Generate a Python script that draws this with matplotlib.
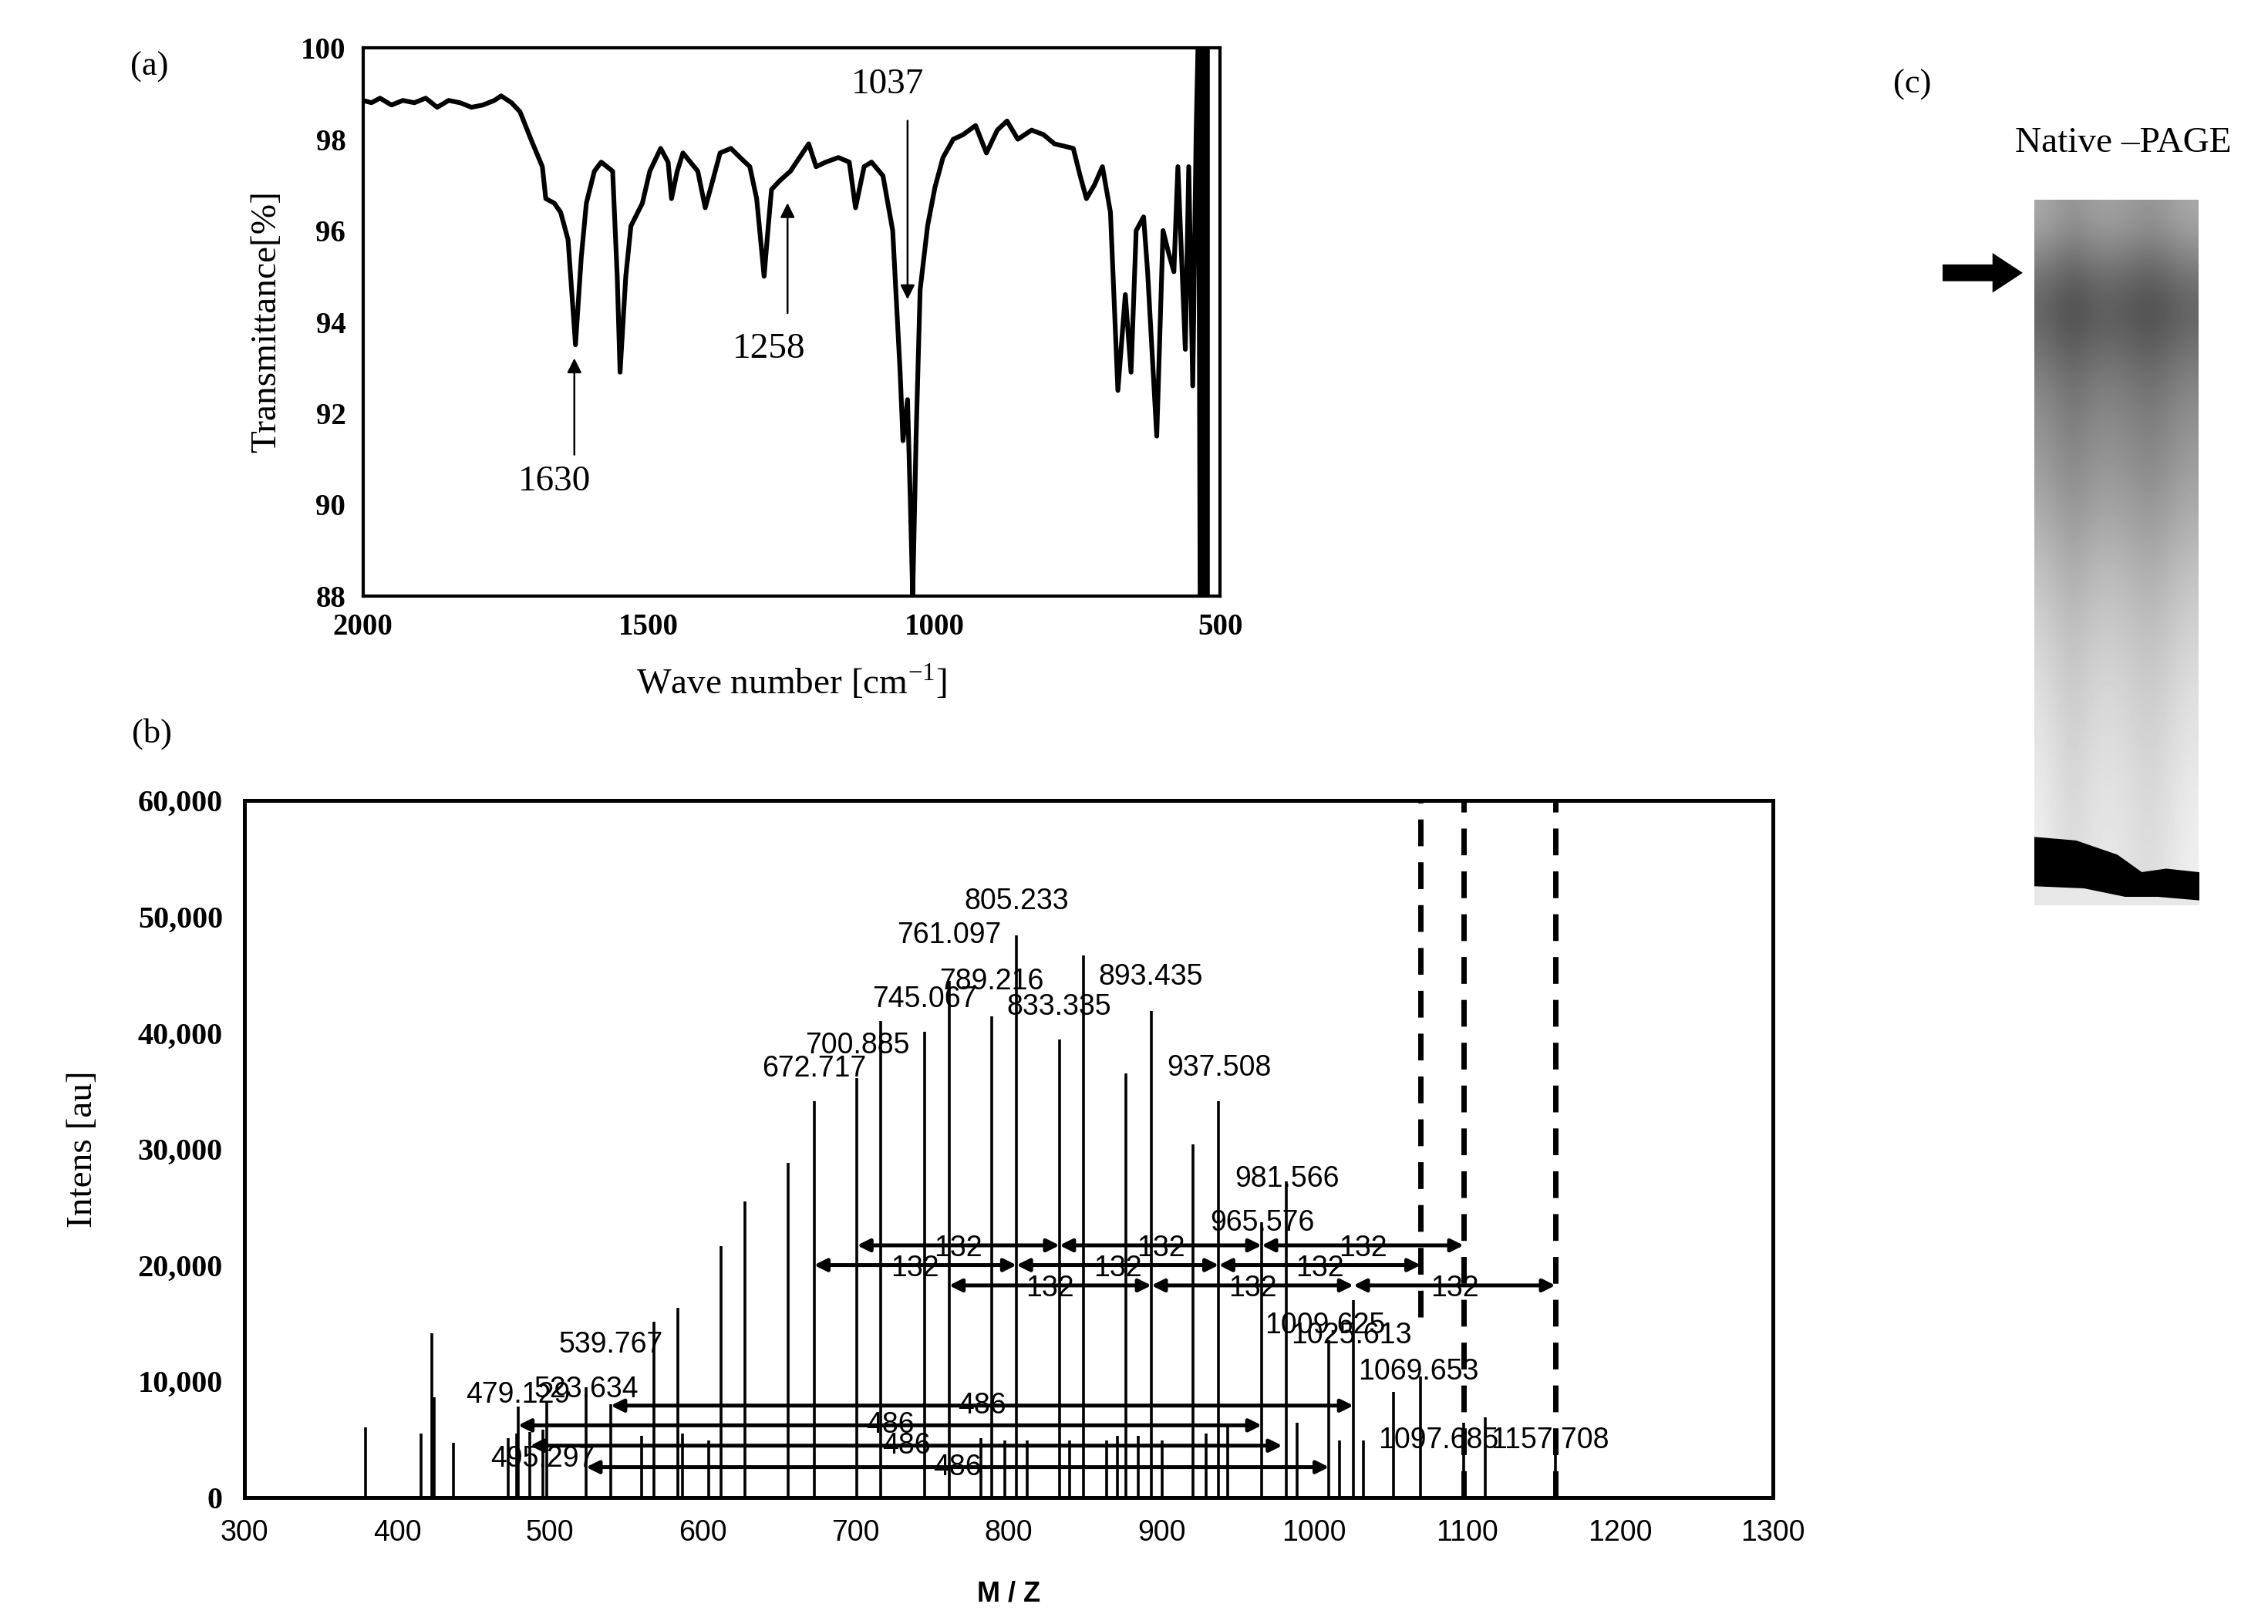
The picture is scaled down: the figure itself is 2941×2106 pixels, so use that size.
import numpy as np
import matplotlib.pyplot as plt

# --- (a) FT-IR spectrum, key points ---
ir_wavenumber = [2000, 1985, 1970, 1950, 1930, 1910, 1890, 1870, 1850, 1830, 1810, 1790, 1770, 1758,
                 1740, 1725, 1706, 1686, 1680, 1665, 1654, 1641, 1628, 1618, 1609, 1595, 1583, 1563,
                 1555, 1550, 1540, 1531, 1511, 1498, 1479, 1466, 1460, 1450, 1440, 1414, 1401, 1390,
                 1375, 1356, 1340, 1323, 1311, 1298, 1290, 1285, 1270, 1252, 1220, 1207, 1190, 1168,
                 1149, 1138, 1123, 1110, 1090, 1073, 1060, 1055, 1047, 1042, 1038, 1032, 1025, 1012,
                 999, 985, 967, 950, 928, 909, 890, 873, 854, 830, 809, 790, 757, 745, 734, 720, 706,
                 692, 679, 666, 656, 647, 634, 627, 611, 600, 590, 581, 574, 561, 555, 548, 542, 538, 535]
ir_transmit = [98.85, 98.80, 98.90, 98.75, 98.85, 98.80, 98.90, 98.70, 98.85, 98.80, 98.70, 98.75, 98.85, 98.95,
               98.80, 98.60, 98.00, 97.40, 96.70, 96.60, 96.40, 95.80, 93.50, 95.40, 96.60, 97.30, 97.50, 97.30,
               95.00, 92.90, 95.00, 96.10, 96.60, 97.30, 97.80, 97.50, 96.70, 97.30, 97.70, 97.30, 96.50, 97.00,
               97.70, 97.80, 97.60, 97.40, 96.70, 95.00, 96.20, 96.90, 97.10, 97.30, 97.90, 97.40, 97.50, 97.60,
               97.50, 96.50, 97.40, 97.50, 97.20, 96.00, 92.90, 91.40, 92.30, 90.00, 88.00, 91.50, 94.70, 96.10,
               96.95, 97.60, 98.00, 98.10, 98.30, 97.70, 98.20, 98.40, 98.00, 98.20, 98.10, 97.90, 97.80, 97.20,
               96.70, 97.00, 97.40, 96.40, 92.50, 94.60, 92.90, 96.00, 96.30, 95.10, 91.50, 96.00, 95.50, 95.10,
               97.40, 93.40, 97.40, 92.60, 98.20, 100.5, 87.5]
ir_marks = ['1630', '1258', '1037']
ir_mark_x = [1630, 1257, 1047]

# --- (b) MALDI-TOF sticks ---
ms_mz = [379.2, 415.8, 422.6, 424.0, 437.0, 472.9, 478.0, 479.129, 487.0, 495.297, 498.0, 523.634,
         539.767, 559.7, 567.9, 583.7, 586.9, 604.0, 611.8, 627.6, 656.0, 672.717, 700.885, 716.3,
         745.067, 761.097, 781.9, 789.216, 797.7, 805.233, 812.0, 833.335, 840.0, 848.9, 864.0, 871.0,
         877.0, 884.6, 893.435, 900.5, 920.8, 929.0, 937.508, 943.4, 965.576, 981.566, 988.7,
         1009.625, 1016.4, 1025.613, 1031.9, 1052.0, 1069.653, 1097.685, 1111.7, 1157.708]
ms_int = [6000, 5500, 14100, 8600, 4700, 5100, 5500, 7800, 5600, 5800, 8200, 9500,
          8000, 5300, 15100, 16300, 5500, 4900, 21600, 25500, 28800, 34100, 36100, 41000,
          40100, 44500, 5100, 41400, 4900, 48400, 4900, 39400, 4900, 46700, 4900, 5300,
          36500, 5300, 41900, 4900, 30400, 5500, 34100, 6200, 23700, 27200, 6400,
          13500, 4900, 17000, 4900, 9100, 10400, 6400, 6900, 5000]

peak_labels = ['805.233', '761.097', '789.216', '893.435', '745.067', '833.335', '700.885', '672.717',
               '937.508', '981.566', '965.576', '539.767', '523.634', '479.129', '495.297', '1009.625',
               '1025.613', '1069.653', '1097.685', '1157.708']
peak_label_x = [805, 761, 789, 893, 745, 833, 701, 673, 938, 982, 966, 540, 524, 479, 495, 1007,
                1024, 1068, 1081, 1154]
peak_label_y = [51300, 48400, 44400, 44800, 42900, 42200, 38900, 36900, 37000, 27400, 23600, 13100,
                9300, 8800, 3300, 14800, 13900, 10800, 4900, 4900]

dashed_mz = [1069.653, 1097.685, 1157.708]
dashed_low = [15500, 0, 0]

# double arrows: (start, end, height)
arrows_132 = [(700.885, 833.335, 21700), (833.335, 965.576, 21700), (965.576, 1097.685, 21700),
              (672.717, 805.233, 20000), (805.233, 937.508, 20000), (937.508, 1069.653, 20000),
              (761.097, 893.435, 18250), (893.435, 1025.613, 18250), (1025.613, 1157.708, 18250)]
arrows_486 = [(539.767, 1025.613, 7900), (479.129, 965.576, 6200),
              (487.0, 979.0, 4450), (523.634, 1009.625, 2600)]

# --- (c) gel densitometry (gray levels, 0 black, 1 white), top to bottom ---
gel_rows = [0.62, 0.45, 0.33, 0.42, 0.50, 0.55, 0.60, 0.66, 0.72, 0.77, 0.81, 0.84, 0.86, 0.88, 0.89, 0.90]
gel_cols = [0.04, -0.01, -0.04, 0.00, 0.01, 0.00, -0.03, -0.03, 0.01, 0.04]

serif = 'Liberation Serif'
sans = 'Liberation Sans'

fig = plt.figure(figsize=(14.705, 10.53), dpi=200)

# ---------- (a) ----------
ax = fig.add_axes([0.160, 0.633, 0.378, 0.3375])
ax.plot(ir_wavenumber, ir_transmit, color='black', lw=2.2)
ax.plot([528, 528], [88, 100], color='black', lw=4)
ax.plot([522, 522], [88, 100], color='black', lw=2)
ax.set_xlim(2000, 500)
ax.set_ylim(88, 100)
ax.set_xticks([2000, 1500, 1000, 500])
ax.set_yticks(range(88, 101, 2))
ax.tick_params(length=0, pad=8)
for t in ax.get_xticklabels() + ax.get_yticklabels():
    t.set_fontfamily(serif)
    t.set_fontweight('bold')
    t.set_fontsize(14)
for s in ax.spines.values():
    s.set_linewidth(1.5)
ax.set_xlabel('Wave number [cm$^{\\mathregular{-1}}$]', fontfamily=serif, fontsize=17, labelpad=10)
ax.set_ylabel('Transmittance[%]', fontfamily=serif, fontsize=17, labelpad=8)
arrowprops = dict(arrowstyle='-|>', color='black', lw=0.9, mutation_scale=14)
ax.annotate('', xy=(ir_mark_x[0], 93.3), xytext=(ir_mark_x[0], 91.0), arrowprops=arrowprops)
ax.text(1665, 90.5, ir_marks[0], fontfamily=serif, fontsize=17, ha='center', va='center')
ax.annotate('', xy=(ir_mark_x[1], 96.7), xytext=(ir_mark_x[1], 94.1), arrowprops=arrowprops)
ax.text(1290, 93.4, ir_marks[1], fontfamily=serif, fontsize=17, ha='center', va='center')
ax.annotate('', xy=(ir_mark_x[2], 94.4), xytext=(ir_mark_x[2], 98.5), arrowprops=arrowprops)
ax.text(1082, 99.2, ir_marks[2], fontfamily=serif, fontsize=17, ha='center', va='center')

# ---------- (b) ----------
bx = fig.add_axes([0.1077, 0.078, 0.674, 0.429])
bx.vlines(ms_mz, 0, ms_int, color='black', lw=1.3)
for m, lo in zip(dashed_mz, dashed_low):
    bx.plot([m, m], [lo, 60000], color='black', lw=2.5, dashes=(5, 3))
for txt, x, y in zip(peak_labels, peak_label_x, peak_label_y):
    bx.text(x, y, txt, fontfamily=sans, fontsize=13.5, ha='center', va='center')
dbl = dict(arrowstyle='<|-|>', color='black', lw=1.8, mutation_scale=12, shrinkA=0, shrinkB=0)
for a, b, y in arrows_132:
    bx.annotate('', xy=(b, y), xytext=(a, y), arrowprops=dbl)
    bx.text((a + b) / 2, y - 300, '132', fontfamily=sans, fontsize=13.5, ha='center', va='center')
for a, b, y in arrows_486:
    bx.annotate('', xy=(b, y), xytext=(a, y), arrowprops=dbl)
    bx.text((a + b) / 2, y, '486', fontfamily=sans, fontsize=13.5, ha='center', va='center')
bx.set_xlim(300, 1300)
bx.set_ylim(0, 60000)
bx.set_xticks(range(300, 1301, 100))
bx.set_yticks(range(0, 60001, 10000))
bx.set_yticklabels(['0'] + [f'{v:,}' for v in range(10000, 60001, 10000)])
bx.tick_params(length=0, pad=10)
for t in bx.get_xticklabels():
    t.set_fontfamily(sans)
    t.set_fontsize(13.5)
for t in bx.get_yticklabels():
    t.set_fontfamily(serif)
    t.set_fontweight('bold')
    t.set_fontsize(14.5)
for s in bx.spines.values():
    s.set_linewidth(1.8)
bx.set_xlabel('M / Z', fontfamily=sans, fontweight='bold', fontsize=13, labelpad=16)
bx.set_ylabel('Intens [au]', fontfamily=serif, fontsize=17, labelpad=18)

# ---------- (c) ----------
cx = fig.add_axes([0.897, 0.443, 0.0724, 0.434])
gel = np.clip(np.array(gel_rows)[:, None] + np.array(gel_cols)[None, :], 0, 1)
cx.imshow(gel, cmap='gray', vmin=0, vmax=1, aspect='auto', interpolation='bicubic',
          extent=[0, 1, 1, 0])
cx.fill_between([0, 0.25, 0.5, 0.65, 0.8, 1.0], [0.905, 0.91, 0.93, 0.955, 0.95, 0.955], [1.0] * 6,
                color='black')
cx.fill_between([0, 0.3, 0.55, 0.75, 1.0], [0.975, 0.978, 0.99, 0.99, 0.995], [1.0] * 5,
                color='#e8e8e8')
cx.set_xlim(0, 1)
cx.set_ylim(1, 0)
cx.axis('off')

fig.text(0.066, 0.959, '(a)', fontfamily=serif, fontsize=16, ha='center', va='center')
fig.text(0.067, 0.548, '(b)', fontfamily=serif, fontsize=16, ha='center', va='center')
fig.text(0.843, 0.948, '(c)', fontfamily=serif, fontsize=16, ha='center', va='center')
fig.text(0.936, 0.912, 'Native \u2013PAGE', fontfamily=serif, fontsize=17, ha='center', va='center')
fig.patches.append(plt.matplotlib.patches.FancyArrow(
    0.857, 0.832, 0.034, 0, width=0.009, head_width=0.022, head_length=0.012,
    length_includes_head=True, color='black', transform=fig.transFigure, figure=fig))

fig.savefig('out.png', dpi=200)
